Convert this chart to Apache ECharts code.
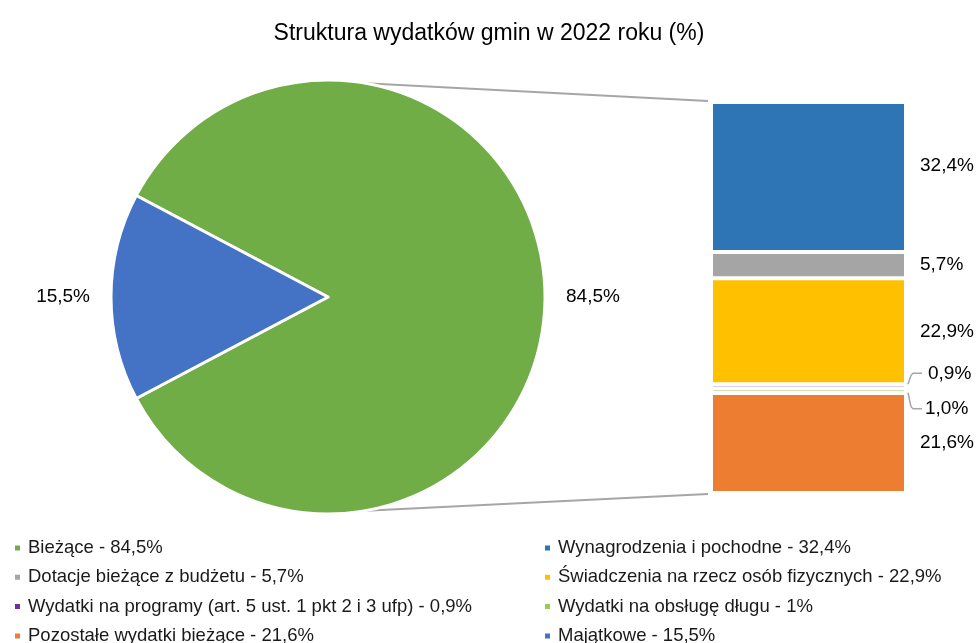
<!DOCTYPE html>
<html>
<head>
<meta charset="utf-8">
<script src="https://cdn.jsdelivr.net/npm/echarts@6/dist/echarts.min.js"></script>
<style>html,body{margin:0;padding:0;background:#fff}#c{width:978px;height:643px}</style>
</head>
<body>
<div id="c"></div>
<script>
// ---- data ----
const chartTitle = 'Struktura wydatków gmin w 2022 roku (%)';
const pieNames = ['Bieżące', 'Majątkowe'];
const pieValues = [84.5, 15.5];
const barNames = ['Wynagrodzenia i pochodne', 'Dotacje bieżące z budżetu', 'Świadczenia na rzecz osób fizycznych',
  'Wydatki na programy (art. 5 ust. 1 pkt 2 i 3 ufp)', 'Wydatki na obsługę długu', 'Pozostałe wydatki bieżące'];
const barValues = [32.4, 5.7, 22.9, 0.9, 1.0, 21.6];
const legendLeft = ['Bieżące - 84,5%', 'Dotacje bieżące z budżetu - 5,7%', 'Wydatki na programy (art. 5 ust. 1 pkt 2 i 3 ufp) - 0,9%', 'Pozostałe wydatki bieżące - 21,6%'];
const legendRight = ['Wynagrodzenia i pochodne - 32,4%', 'Świadczenia na rzecz osób fizycznych - 22,9%', 'Wydatki na obsługę długu - 1%', 'Majątkowe - 15,5%'];

// ---- styles ----
const FONT = '"Liberation Sans", Arial, sans-serif';
const colors = {
  'Bieżące': '#70ad47', 'Majątkowe': '#4472c4',
  'Wynagrodzenia i pochodne': '#2e75b6', 'Dotacje bieżące z budżetu': '#a5a5a5',
  'Świadczenia na rzecz osób fizycznych': '#ffc000', 'Wydatki na programy (art. 5 ust. 1 pkt 2 i 3 ufp)': '#7030a0',
  'Wydatki na obsługę długu': '#92d050', 'Pozostałe wydatki bieżące': '#ed7d31'
};
const fmt = v => v.toFixed(1).replace('.', ',') + '%';
const legendFull = legendLeft.concat(legendRight);
const fullName = n => legendFull.find(s => s.startsWith(n + ' - '));

const PIE_C = [328, 297], PIE_R = 217;
const GRID = {left: 711, top: 102, width: 195, bottom: 150};
const sumBar = barValues.reduce((a, b) => a + b, 0);
const startAngle = 180 - (pieValues[1] / 2) / (pieValues[0] + pieValues[1]) * 360; // Majątkowe centred on the left

const labelShift = {
  'Wynagrodzenia i pochodne': {dy: -11},
  'Wydatki na programy (art. 5 ust. 1 pkt 2 i 3 ufp)': {dy: -13, dx: 8},
  'Wydatki na obsługę długu': {dy: 18, dx: 5}
};
const leaderFor = ['Wydatki na programy (art. 5 ust. 1 pkt 2 i 3 ufp)', 'Wydatki na obsługę długu'];

const barSeries = barNames.map((n, i) => ({
  name: fullName(n), type: 'bar', stack: 'a', barWidth: '100%',
  data: [barValues[i]],
  itemStyle: {color: colors[n], borderColor: '#fff', borderWidth: 2},
  label: {show: true, position: 'right', distance: 14, formatter: () => fmt(barValues[i]),
    fontFamily: FONT, fontSize: 19, color: '#000'},
  labelLayout: labelShift[n]
})).reverse();

const legendCommon = {orient: 'vertical', icon: 'rect', itemWidth: 7, itemHeight: 7, itemGap: 9.3, height: 200, padding: 0,
  textStyle: {fontFamily: FONT, fontSize: 18.5, color: '#1a1a1a', lineHeight: 20, padding: [0, 0, 0, 2]}};

const option = {
  animation: false,
  backgroundColor: '#fff',
  title: {text: chartTitle, left: 'center', top: 17, textStyle: {fontFamily: FONT, fontSize: 23, fontWeight: 'normal', color: '#000'}},
  legend: [
    Object.assign({left: 13, top: 538, data: legendLeft}, legendCommon),
    Object.assign({left: 543, top: 538, data: legendRight}, legendCommon)
  ],
  grid: GRID,
  xAxis: {type: 'category', data: [''], show: false},
  yAxis: {type: 'value', min: 0, max: sumBar, show: false},
  series: [{
    type: 'pie', center: PIE_C, radius: PIE_R, startAngle: startAngle, clockwise: true,
    data: pieNames.map((n, i) => ({name: fullName(n), value: pieValues[i], itemStyle: {color: colors[n]}})),
    itemStyle: {borderColor: '#fff', borderWidth: 3},
    label: {show: true, position: 'outside', formatter: p => fmt(p.value), fontFamily: FONT, fontSize: 19, color: '#000'},
    labelLine: {show: false, length: 12, length2: 4}
  }].concat(barSeries)
};

const chart = echarts.init(document.getElementById('c'));
chart.setOption(option);

// connector lines between pie and bar
const ang = 80 * Math.PI / 180;
const topPt = [PIE_C[0] + PIE_R * Math.cos(ang), PIE_C[1] - PIE_R * Math.sin(ang)];
const botPt = [PIE_C[0] + PIE_R * Math.cos(ang), PIE_C[1] + PIE_R * Math.sin(ang)];
const barTop = chart.convertToPixel({gridIndex: 0}, [0, sumBar]);
const barBot = chart.convertToPixel({gridIndex: 0}, [0, 0]);
const barRight = GRID.left + GRID.width;
const graphics = [
  {type: 'line', shape: {x1: topPt[0], y1: topPt[1], x2: GRID.left - 3, y2: barTop[1] - 1}, style: {stroke: '#a6a6a6', lineWidth: 2}},
  {type: 'line', shape: {x1: botPt[0], y1: botPt[1], x2: GRID.left - 3, y2: barBot[1] + 1}, style: {stroke: '#a6a6a6', lineWidth: 2}}
];
// elbow leader lines for the small segments
leaderFor.forEach(n => {
  const idx = barNames.indexOf(n);
  let below = 0;
  for (let j = barNames.length - 1; j > idx; j--) below += barValues[j];
  const mid = chart.convertToPixel({gridIndex: 0}, [0, below + barValues[idx] / 2]);
  const ly = mid[1] + labelShift[n].dy;
  const sign = labelShift[n].dy < 0 ? -1 : 1;
  graphics.push({type: 'polyline', shape: {points: [[barRight + 2, mid[1] + sign * 2], [barRight + 5, ly - sign * 2], [barRight + 7, ly], [barRight + 16, ly]]},
    style: {stroke: '#a6a6a6', lineWidth: 1.5, fill: null}});
});
chart.setOption({graphic: graphics});
</script>
</body>
</html>
